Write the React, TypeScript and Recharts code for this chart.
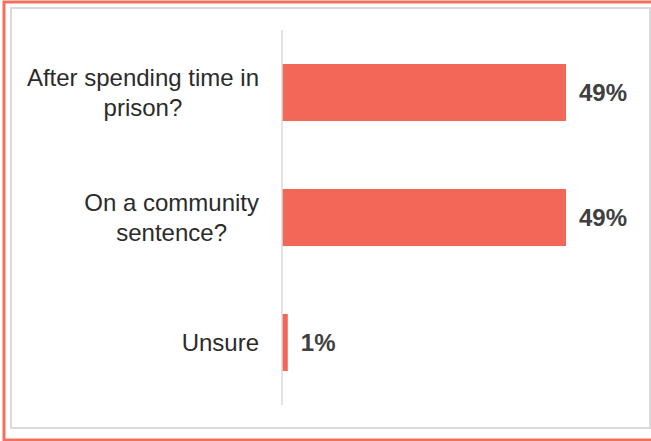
import React from "react";
import { Bar, BarChart, LabelList, XAxis, YAxis } from "recharts";

const BAR = "#f26758";
const FRAME = "#f3705f";
const BOX = "#dadada";
const TEXT = "#2b2b2b";
const FONT = "'Liberation Sans', Arial, sans-serif";

const categories = ["After spending time in prison?", "On a community sentence?", "Unsure"];
const categoryLines = [["After spending time in", "prison?"], ["On a community", "sentence?"], ["Unsure"]];
const shares = [49, 49, 1];

const data = categories.map((name, i) => ({ name, lines: categoryLines[i], value: shares[i] }));

let ctx: CanvasRenderingContext2D | null = null;
function textWidth(s: string) {
  if (!ctx) ctx = document.createElement("canvas").getContext("2d");
  if (!ctx) return s.length * 11;
  ctx.font = `24px ${FONT}`;
  return ctx.measureText(s).width;
}

function CategoryTick(props: any) {
  const { y, payload, index } = props;
  const lines: string[] = categoryLines[index] ?? [payload.value];
  const right = 259;
  const w = Math.max(...lines.map(textWidth));
  const cx = right - w / 2;
  const lh = 30;
  const top = -((lines.length - 1) * lh) / 2;
  return (
    <text
      x={cx}
      y={y}
      textAnchor="middle"
      fill={TEXT}
      fontSize={24}
      fontFamily={FONT}
    >
      {lines.map((l, i) => (
        <tspan key={i} x={cx} y={y + top + i * lh} dy="0.36em">
          {l}
        </tspan>
      ))}
    </text>
  );
}

export default function App() {
  return (
    <div style={{ position: "absolute", left: 0, top: 0, width: 651, height: 441, background: "#fff", overflow: "hidden" }}>
      <svg width={651} height={441} style={{ position: "absolute", left: 0, top: 0 }}>
        <rect x={4} y={2} width={700} height={438} fill="none" stroke={FRAME} strokeWidth={3} />
        <rect x={11} y={8} width={639} height={420} fill="none" stroke={BOX} strokeWidth={2} />
      </svg>
      <div style={{ position: "absolute", left: 0, top: 0 }}>
        <BarChart
          width={651}
          height={441}
          data={data}
          layout="vertical"
          margin={{ top: 30, right: 85, bottom: 36, left: 0 }}
        >
          <XAxis type="number" domain={[0, 49]} allowDataOverflow hide />
          <YAxis
            type="category"
            dataKey="name"
            width={282}
            axisLine={{ stroke: BOX, strokeWidth: 1.5 }}
            tickLine={false}
            tick={<CategoryTick />}
            interval={0}
          />
          <Bar dataKey="value" fill={BAR} barSize={57} isAnimationActive={false}>
            <LabelList
              dataKey="value"
              position="right"
              offset={13}
              formatter={(v: any) => `${v}%`}
              style={{ fill: "#404040", fontSize: 24, fontWeight: 700, fontFamily: FONT }}
            />
          </Bar>
        </BarChart>
      </div>
    </div>
  );
}
